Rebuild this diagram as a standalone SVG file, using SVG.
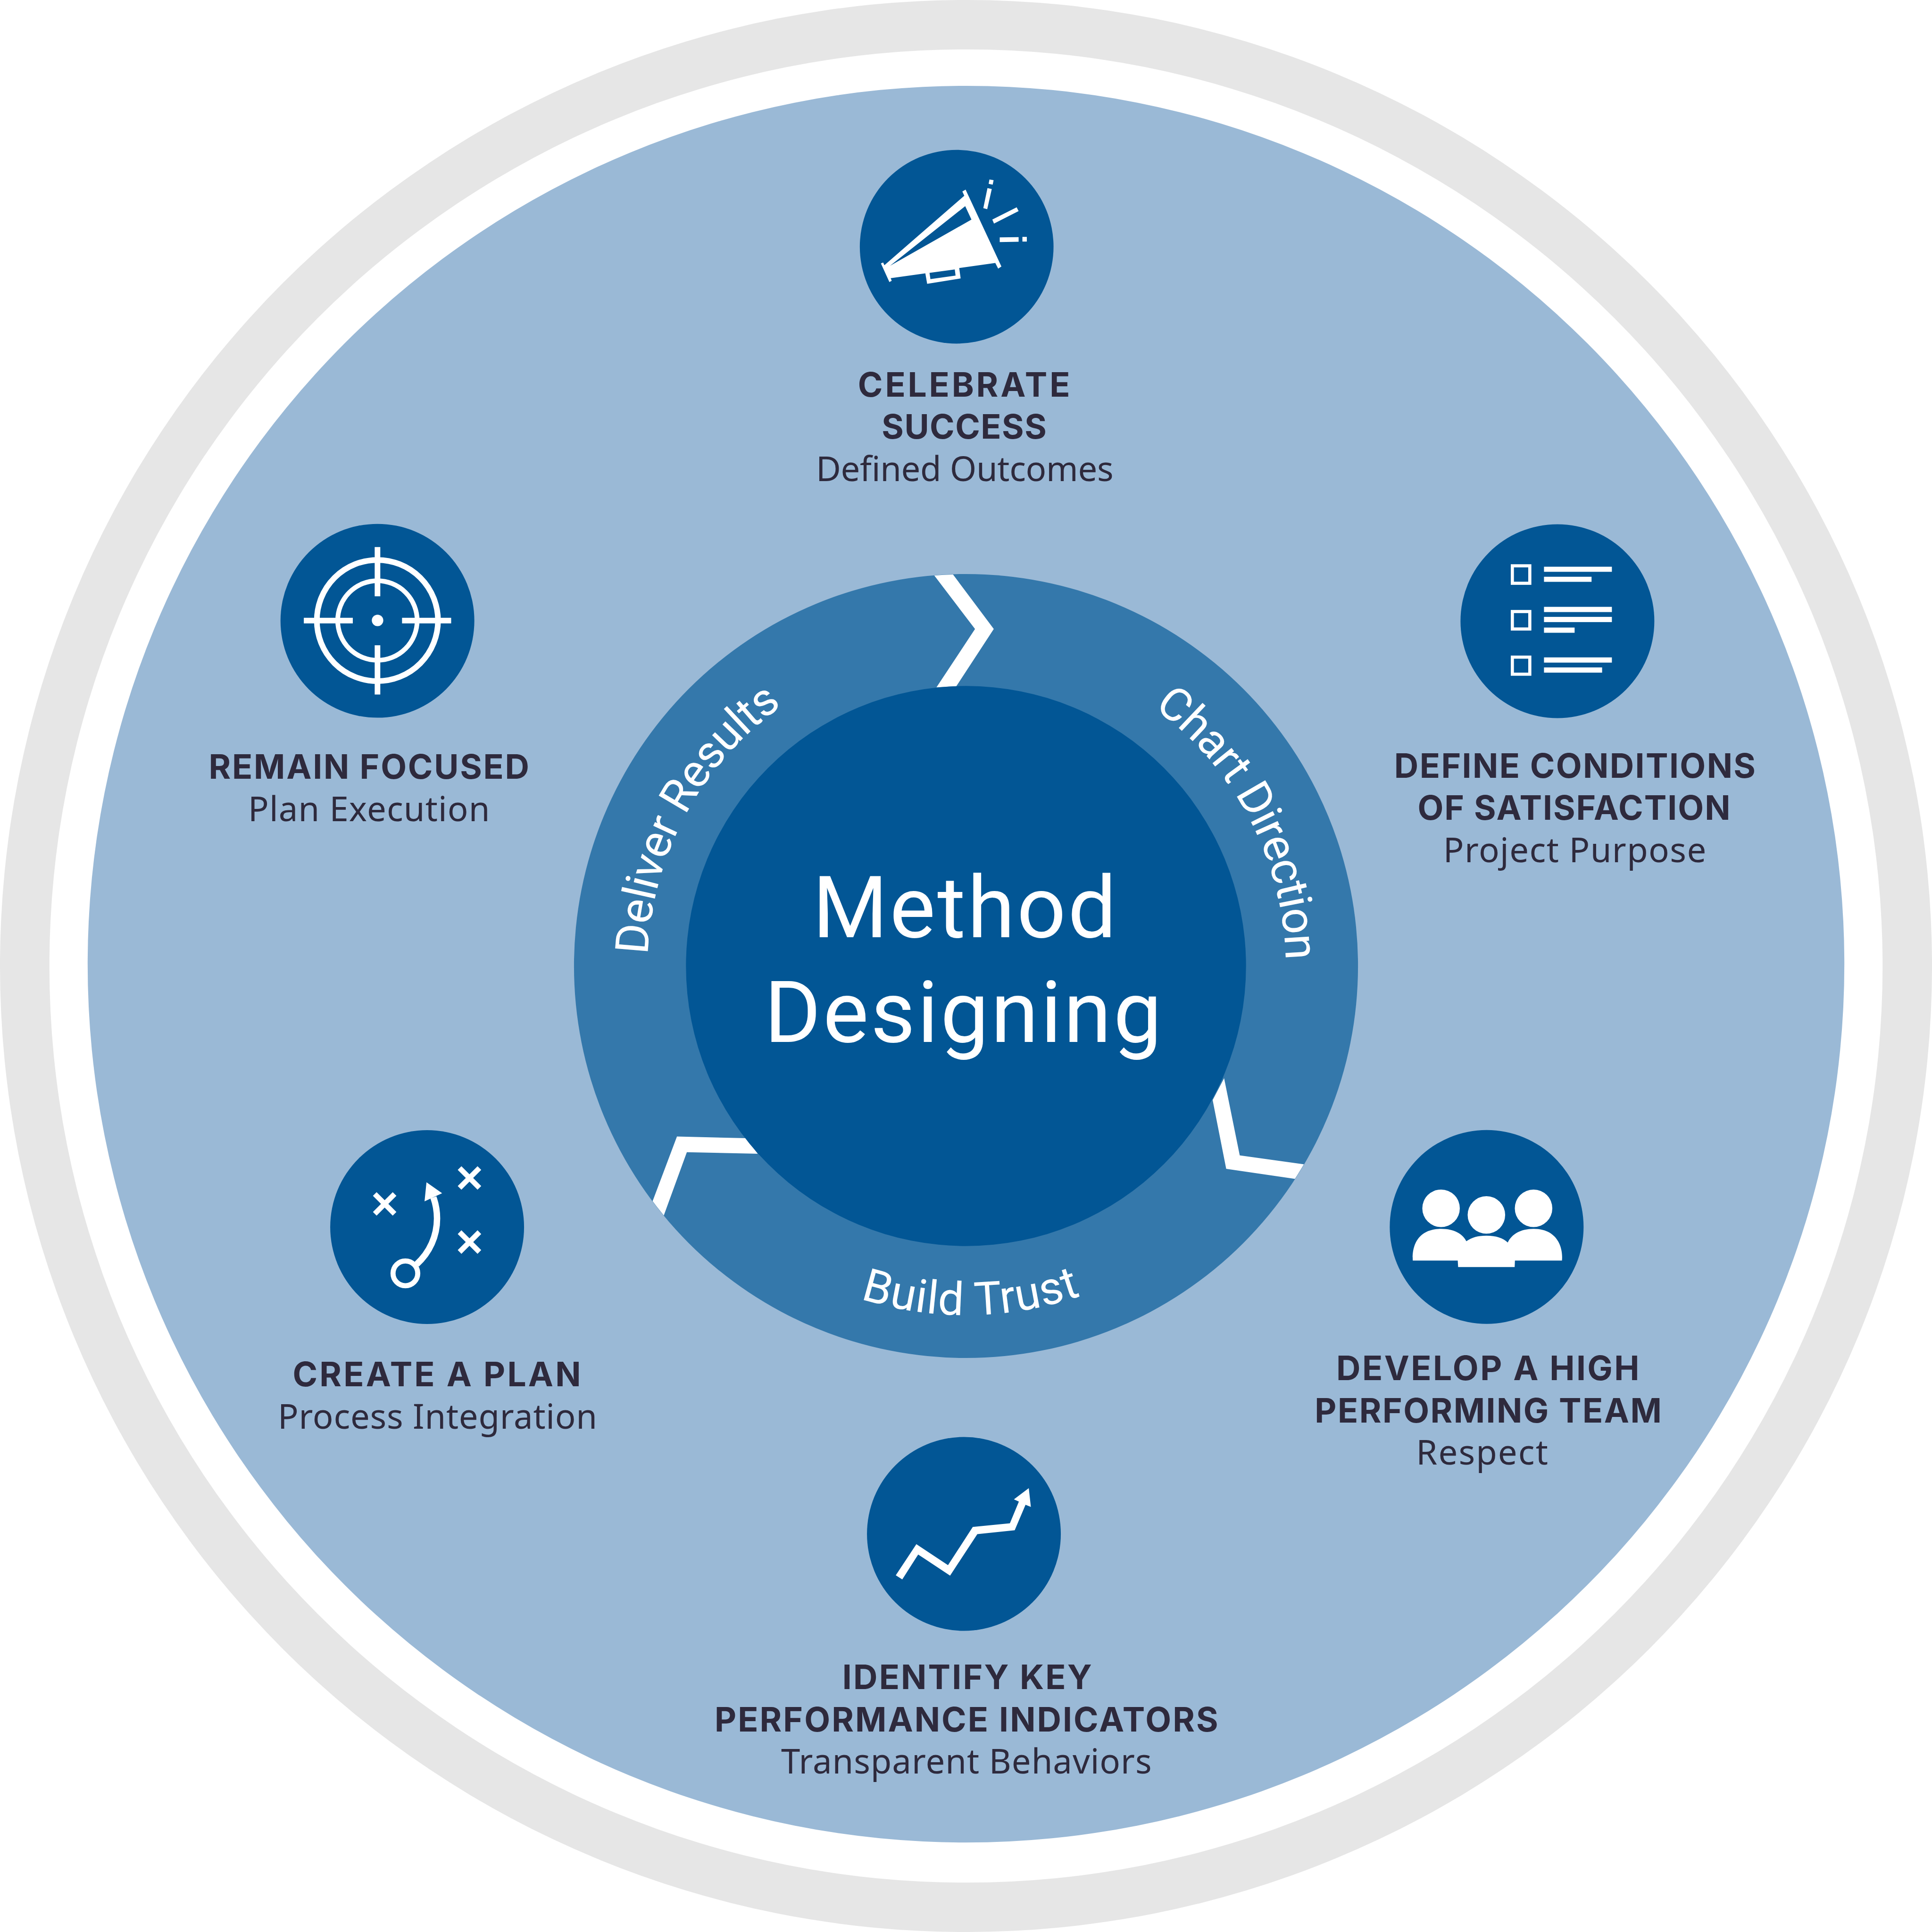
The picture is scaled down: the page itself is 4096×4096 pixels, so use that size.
<svg xmlns="http://www.w3.org/2000/svg" width="4096" height="4096" viewBox="0 0 4096 4096">
<style>
.d{fill:#025695}.w{fill:#fff}.s{fill:none;stroke:#fff}
.b,.r{fill:#2e2a3d}
.r{font-family:"Noto Sans","Open Sans",sans-serif;font-size:92px}
.b{font-family:Inter,"Noto Sans",sans-serif;font-size:90.5px;font-weight:700}
.c{font-family:Roboto,"Noto Sans",sans-serif;fill:#fff}
</style>
<defs>
<clipPath id="ringClip"><circle cx="2601" cy="2601" r="1055"/></clipPath>
<path id="pChart" d="M3106,1906A862,862 0 0 1 3459,2676"/>
<path id="pDeliver" d="M1744.5,2571A858,858 0 0 1 2172,1858"/>
<path id="pBuild" d="M2316,3497A940,940 0 0 0 2998.3,3452.9"/>
</defs>
<g transform="scale(0.78739)">
<g id="background">
<circle cx="2601" cy="2601" r="2601" fill="#e6e6e6"/>
<circle cx="2601" cy="2601" r="2468" fill="#fff"/>
<circle cx="2601" cy="2596" r="2365" fill="#9ab9d6"/>
</g>
<g id="ring"><circle cx="2601" cy="2601" r="1055.5" fill="#3478ab"/></g>
<g id="connectors" clip-path="url(#ringClip)">
<g transform="translate(1500 1500) scale(1.4031)">
<polygon class="w" points="716,25 752,23 838,138 766,248 728,250 802,138"/>
<polygon class="w" points="1445,1167 1310,1148 1280,1000 1258,1042 1284,1174 1428,1195"/>
<polygon class="w" points="178,1250 230,1112 362,1115 385,1145 249,1142 198,1282"/>
</g>
</g>
<g id="center"><circle class="d" cx="2601" cy="2601" r="754"/>
<text class="c" x="2188" y="2524" font-size="232" textLength="818">Method</text>
<text class="c" x="2058" y="2806" font-size="232" textLength="1070">Designing</text>
</g>
<g id="ring-labels">
<text class="c" font-size="124"><textPath href="#pChart" textLength="795">Chart Direction</textPath></text>
<text class="c" font-size="124"><textPath href="#pDeliver" textLength="790">Deliver Results</textPath></text>
<text class="c" font-size="124"><textPath href="#pBuild" textLength="605">Build Trust</textPath></text>
</g>

<g id="node-celebrate">
<g transform="translate(2300 400) scale(.35077)">
<circle class="d" cx="786.5" cy="753.5" r="743.5"/>
<path class="w" fill-rule="evenodd" d="M205,882L222,875L232,895L845,362L830,330L855,315L1130,905L1105,922L1083,878L806,917L817,997L560,1038L546,958L280,995L288,1015L270,1025ZM275,900L852,442L900,545ZM578,954L772,928L778,975L585,1002Z"/>
<polygon class="w" points="1038,237 1070,243 1063,277 1032,271"/>
<polygon class="w" points="1023,303 1056,311 1021,465 991,457"/>
<polygon class="w" points="1247,451 1262,480 1073,576 1060,545"/>
<polygon class="w" points="1117,682 1262,680 1262,715 1117,718"/>
<rect class="w" x="1291" y="678" width="34" height="36"/>
</g>
<text class="b" x="2310" y="1067.7" textLength="571">CELEBRATE</text>
<text class="b" x="2374" y="1181.7" textLength="444">SUCCESS</text>
<text class="r" x="2197" y="1295.7" textLength="801">Defined Outcomes</text>
</g>

<g id="node-focused">
<g transform="translate(750 1400) scale(.35077)">
<circle class="d" cx="759" cy="774" r="744"/>
<circle class="s" cx="759" cy="772" r="465" stroke-width="43.5"/>
<circle class="s" cx="759" cy="772" r="305" stroke-width="36"/>
<circle class="w" cx="760" cy="771" r="44"/>
<rect class="w" x="738" y="208" width="43" height="378"/>
<rect class="w" x="738" y="962" width="43" height="378"/>
<rect class="w" x="194" y="751" width="376" height="43"/>
<rect class="w" x="948" y="751" width="377" height="43"/>
</g>
<text class="b" x="562" y="2097" textLength="863">REMAIN FOCUSED</text>
<text class="r" x="668" y="2211" textLength="651">Plan Execution</text>
</g>

<g id="node-conditions">
<g transform="translate(3930 1400) scale(.35077)">
<circle class="d" cx="751" cy="777" r="744"/>
<rect class="s" x="405" y="352" width="134" height="134" stroke-width="24"/>
<rect class="s" x="405" y="703" width="134" height="134" stroke-width="24"/>
<rect class="s" x="405" y="1053" width="134" height="131" stroke-width="24"/>
<rect class="w" x="648" y="359" width="521" height="39"/>
<rect class="w" x="648" y="436" width="365" height="39"/>
<rect class="w" x="648" y="667" width="521" height="40"/>
<rect class="w" x="648" y="744" width="521" height="40"/>
<rect class="w" x="648" y="826" width="235" height="40"/>
<rect class="w" x="648" y="1055" width="521" height="40"/>
<rect class="w" x="648" y="1132" width="446" height="40"/>
</g>
<text class="b" x="3754" y="2093.7" textLength="973">DEFINE CONDITIONS</text>
<text class="b" x="3817" y="2207.7" textLength="842">OF SATISFACTION</text>
<text class="r" x="3886" y="2322" textLength="708">Project Purpose</text>
</g>

<g id="node-plan">
<g transform="translate(880 3030) scale(.35077)">
<circle class="d" cx="770" cy="781" r="744"/>
<path class="s" stroke-width="40" d="M1019,328L1171,480M1171,328L1019,480M1019,820L1171,972M1171,820L1019,972M368,527L520,679M520,527L368,679"/>
<circle class="s" cx="603" cy="1136" r="95" stroke-width="39"/>
<path class="s" stroke-width="49" d="M690,1066C790,975 846,850 846,715C846,650 835,600 818,553"/>
<polygon class="w" points="765,437 885,521 841,541 795,563 750,584"/>
</g>
<text class="b" x="788" y="3733" textLength="776">CREATE A PLAN</text>
<text class="r" x="748" y="3847" textLength="860">Process Integration</text>
</g>

<g id="node-team">
<g transform="translate(3730 3030) scale(.35077)">
<circle class="d" cx="778" cy="780" r="744"/>
<circle class="w" cx="428" cy="637" r="144"/>
<circle class="w" cx="776" cy="688" r="144"/>
<circle class="w" cx="1138" cy="637" r="144"/>
<path class="w" d="M211,1038C205,960 225,795 428,795C530,795 595,835 622,890C665,860 710,847 776,847C850,847 905,865 940,900C970,835 1040,795 1138,795C1330,795 1365,950 1356,1038L995,1038L993,1088L559,1088L556,1038Z"/>
</g>
<text class="b" x="3598" y="3716" textLength="816">DEVELOP A HIGH</text>
<text class="b" x="3540" y="3830" textLength="934">PERFORMING TEAM</text>
<text class="r" x="3813" y="3944" textLength="355">Respect</text>
</g>

<g id="node-kpi">
<g transform="translate(2320 3860) scale(.35077)">
<circle class="d" cx="785" cy="770" r="744"/>
<polygon class="w" points="262,1088 420,849 663,1010 853,717 1138,689 1207,522 1169,505 1283,419 1299,563 1258,546 1175,742 888,772 679,1090 434,928 312,1119"/>
</g>
<text class="b" x="2268" y="4547.7" textLength="672">IDENTIFY KEY</text>
<text class="b" x="1924" y="4661.7" textLength="1356">PERFORMANCE INDICATORS</text>
<text class="r" x="2103" y="4775.7" textLength="998">Transparent Behaviors</text>
</g>
</g>
</svg>
